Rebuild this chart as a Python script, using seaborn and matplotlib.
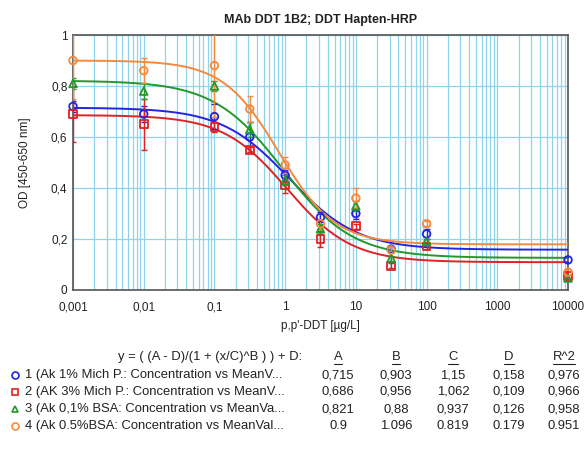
import numpy as np
import pandas as pd
import matplotlib
matplotlib.use("Agg")
import matplotlib.pyplot as plt
import seaborn as sns
from matplotlib.ticker import FixedLocator, LogLocator, MultipleLocator
from matplotlib.lines import Line2D

# ---------------- data ----------------
conc = [0.001, 0.01, 0.1, 0.316, 1, 3.16, 10, 31.6, 100, 10000]
series_names = ["1", "2", "3", "4"]
legend_labels = [
    "1 (Ak 1% Mich P.: Concentration vs MeanV...",
    "2 (AK 3% Mich P.: Concentration vs MeanV...",
    "3 (Ak 0,1% BSA: Concentration vs MeanVa...",
    "4 (Ak 0.5%BSA: Concentration vs MeanVal...",
]
od_1 = [0.72, 0.69, 0.68, 0.60, 0.45, 0.285, 0.30, 0.16, 0.22, 0.118]
od_2 = [0.69, 0.65, 0.64, 0.55, 0.41, 0.20, 0.25, 0.095, 0.17, 0.055]
od_3 = [0.81, 0.78, 0.80, 0.63, 0.43, 0.24, 0.33, 0.125, 0.19, 0.047]
od_4 = [0.90, 0.86, 0.88, 0.71, 0.49, 0.26, 0.36, 0.157, 0.26, 0.07]
err_1 = [0.02, 0.03, 0.05, 0.06, 0.02, 0.02, 0.02, 0.01, 0.02, 0.01]
err_2 = [0.11, 0.10, 0.02, 0.01, 0.03, 0.03, 0.01, 0.01, 0.01, 0.01]
err_3 = [0.02, 0.03, 0.02, 0.03, 0.02, 0.02, 0.02, 0.01, 0.01, 0.01]
err_4 = [0.15, 0.05, 0.20, 0.05, 0.03, 0.02, 0.04, 0.01, 0.01, 0.01]

# fitted 4PL parameters (as printed in the table)
param_A = [0.715, 0.686, 0.821, 0.9]
param_B = [0.903, 0.956, 0.88, 1.096]
param_C = [1.15, 1.062, 0.937, 0.819]
param_D = [0.158, 0.109, 0.126, 0.179]
r_squared = [0.976, 0.966, 0.958, 0.951]
value_text = [
    ["0,715", "0,903", "1,15", "0,158", "0,976"],
    ["0,686", "0,956", "1,062", "0,109", "0,966"],
    ["0,821", "0,88", "0,937", "0,126", "0,958"],
    ["0.9", "1.096", "0.819", "0.179", "0.951"],
]
col_headers = ["A", "B", "C", "D", "R^2"]
x_tick_vals = [0.001, 0.01, 0.1, 1, 10, 100, 1000, 10000]
x_tick_labels = ["0,001", "0,01", "0,1", "1", "10", "100", "1000", "10000"]
y_tick_vals = [0, 0.2, 0.4, 0.6, 0.8, 1.0]
y_tick_labels = ["0", "0,2", "0,4", "0,6", "0,8", "1"]

colors = ["#2424e0", "#e02222", "#22992a", "#f58a3c"]
markers = ["o", "s", "^", "o"]

# ---------------- build tables ----------------
ods = [od_1, od_2, od_3, od_4]
errs = [err_1, err_2, err_3, err_4]
pts = pd.concat([
    pd.DataFrame({"conc": conc, "od": o, "err": e, "series": s})
    for s, o, e in zip(series_names, ods, errs)
], ignore_index=True)

xgrid = np.logspace(-3, 4, 400)
curves = pd.concat([
    pd.DataFrame({"conc": xgrid,
                  "od": (a - d) / (1 + (xgrid / c) ** b) + d,
                  "series": s})
    for s, a, b, c, d in zip(series_names, param_A, param_B, param_C, param_D)
], ignore_index=True)

# ---------------- figure ----------------
sns.set_theme(style="white")
plt.rcParams["font.family"] = ["Liberation Sans", "DejaVu Sans"]

W, H = 584, 458
fig = plt.figure(figsize=(W / 100, H / 100), dpi=100)
L, R, T, B = 73, 568, 35, 290
ax = fig.add_axes([L / W, 1 - B / H, (R - L) / W, (B - T) / H])

palette = dict(zip(series_names, colors))

ax.set_xscale("log")
ax.set_xlim(0.001, 10000)
ax.set_ylim(0, 1)
ax.xaxis.set_major_locator(FixedLocator(x_tick_vals))
ax.xaxis.set_minor_locator(LogLocator(base=10, subs=np.arange(2, 10), numticks=50))
ax.yaxis.set_major_locator(FixedLocator(y_tick_vals))
ax.yaxis.set_minor_locator(MultipleLocator(0.04))
ax.grid(True, which="both", axis="x", color="#8fd4ec", lw=0.9)
ax.grid(True, which="major", axis="y", color="#8fd4ec", lw=0.9)
ax.set_axisbelow(True)

sns.lineplot(data=curves, x="conc", y="od", hue="series", palette=palette,
             legend=False, ax=ax, lw=1.4, zorder=3)

for s, col in zip(series_names, colors):
    d = pts[pts.series == s]
    ax.errorbar(d.conc, d.od, yerr=d.err, fmt="none", ecolor=col,
                elinewidth=1.0, capsize=2.5, capthick=1.0, zorder=4)

for s, col, m in zip(series_names, colors, markers):
    d = pts[pts.series == s]
    sns.scatterplot(data=d, x="conc", y="od", marker=m, s=30,
                    facecolor="none", edgecolor=col, linewidth=1.3,
                    legend=False, ax=ax, zorder=5, clip_on=False)

ax.set_xticklabels(x_tick_labels)
ax.set_yticklabels(y_tick_labels)
ax.tick_params(axis="both", which="major", labelsize=8.5, colors="#333333",
               length=4, width=1, direction="inout", labelcolor="#222222")
ax.tick_params(axis="both", which="minor", length=3, width=0.8,
               direction="inout", colors="#333333")
ax.tick_params(axis="x", pad=6)
ax.tick_params(axis="y", pad=2)
for sp in ax.spines.values():
    sp.set_color("#555555")
    sp.set_linewidth(1.2)

ax.set_xlabel("p,p'-DDT [µg/L]", fontsize=8.5, color="#222222", labelpad=5)
ax.set_ylabel("OD [450-650 nm]", fontsize=8.5, color="#222222", labelpad=14)
ax.set_title("MAb DDT 1B2; DDT Hapten-HRP", fontsize=9, fontweight="bold",
             color="#222222", pad=9)

# ---------------- fit table below ----------------
def fx(px):
    return px / W

def fy(py):
    return 1 - py / H

fs = 9.4
header_y = 357
row_y = [375, 392, 409, 426]
col_x = [338, 396, 453, 509, 564]

fig.text(fx(302), fy(header_y), "y = ( (A - D)/(1 + (x/C)^B ) ) + D:", ha="right",
         va="center", fontsize=fs, color="#222222")
hdr_texts = []
for cx, h in zip(col_x, col_headers):
    hdr_texts.append(fig.text(fx(cx), fy(header_y), h, ha="center", va="center",
                              fontsize=fs, color="#222222"))

for i in range(4):
    fig.add_artist(Line2D([fx(15)], [fy(row_y[i])], marker=markers[i], ms=5,
                          mfc="none", mec=colors[i], mew=1.2, ls="none",
                          transform=fig.transFigure))
    fig.text(fx(25), fy(row_y[i]), legend_labels[i], ha="left", va="center",
             fontsize=fs, color="#222222")
    for cx, v in zip(col_x, value_text[i]):
        fig.text(fx(cx), fy(row_y[i]), v, ha="center", va="center",
                 fontsize=fs, color="#222222")

fig.canvas.draw()
renderer = fig.canvas.get_renderer()
for t in hdr_texts:
    bb = t.get_window_extent(renderer)
    yl = bb.y0 - 1
    fig.add_artist(Line2D([bb.x0 / W, bb.x1 / W], [yl / H, yl / H], color="#222222",
                          lw=0.8, transform=fig.transFigure))

fig.savefig("out.png", dpi=100)
